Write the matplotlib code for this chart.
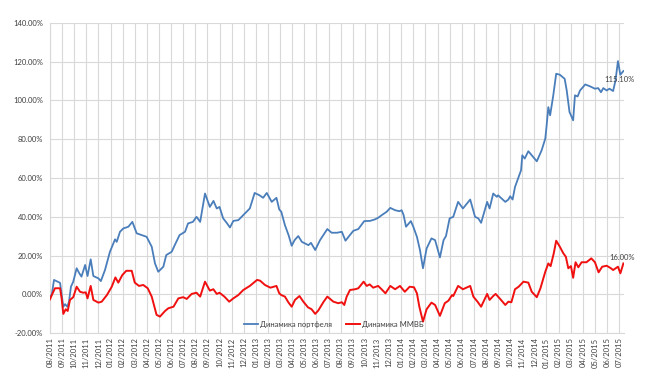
import matplotlib
matplotlib.use("Agg")
import matplotlib.pyplot as plt
from matplotlib.ticker import FuncFormatter, MultipleLocator

plt.rcParams['font.family'] = ['Lato', 'DejaVu Sans']

# month labels (categories on the x axis)
month_labels = ["08/2011", "09/2011", "10/2011", "11/2011", "12/2011",
                "01/2012", "02/2012", "03/2012", "04/2012", "05/2012", "06/2012", "07/2012",
                "08/2012", "09/2012", "10/2012", "11/2012", "12/2012",
                "01/2013", "02/2013", "03/2013", "04/2013", "05/2013", "06/2013", "07/2013",
                "08/2013", "09/2013", "10/2013", "11/2013", "12/2013",
                "01/2014", "02/2014", "03/2014", "04/2014", "05/2014", "06/2014", "07/2014",
                "08/2014", "09/2014", "10/2014", "11/2014", "12/2014",
                "01/2015", "02/2015", "03/2015", "04/2015", "05/2015", "06/2015", "07/2015"]

# portfolio dynamics: time in months since 08/2011, value in %
portfolio_t = [0.0, 0.15, 0.33, 0.5, 0.83, 0.92, 1.1, 1.24, 1.43, 1.57, 1.73, 1.92,
               2.2, 2.42, 2.6, 2.9, 3.1, 3.36, 3.58, 4.0, 4.2, 4.54, 4.95, 5.37, 5.51,
               5.78, 6.05, 6.47, 6.8, 7.16, 7.57, 7.98, 8.4, 8.67, 8.94, 9.36,
               9.6, 10.05, 10.3, 10.7, 11.15, 11.4, 11.8, 12.1, 12.4, 12.8, 13.2, 13.5,
               13.77, 14.0, 14.3, 14.59, 14.86, 15.14, 15.55, 15.96, 16.5, 16.9, 17.3,
               17.6, 17.9, 18.31, 18.7, 18.93, 19.1, 19.4, 19.7, 19.96, 20.2, 20.5,
               20.8, 21.06, 21.34, 21.55, 21.9, 22.3, 22.9, 23.26, 23.7, 24.1, 24.4,
               24.65, 25.05, 25.46, 25.95, 26.42, 26.8, 27.1, 27.4, 27.8, 28.1, 28.5,
               28.85, 29.04, 29.2, 29.4, 29.8, 30.0, 30.3, 30.55, 30.8, 31.1, 31.5,
               31.8, 32.2, 32.5, 32.7, 33.0, 33.3, 33.7, 34.1, 34.7, 35.1, 35.37,
               35.6, 36.1, 36.3, 36.6, 36.9, 37.0, 37.3, 37.6, 37.85, 38.0, 38.2,
               38.4, 38.7, 38.9, 39.0, 39.2, 39.5, 39.78, 40.2, 40.6, 40.9, 41.0,
               41.15, 41.3, 41.56, 41.8, 42.1, 42.5, 42.67, 42.9, 43.2, 43.35, 43.57,
               43.77, 44.2, 44.6, 45.0, 45.27, 45.5, 45.69, 45.97, 46.2, 46.5, 46.7,
               46.9, 47.1, 47.35]
portfolio = [-1.1, 0.0, 7.5, 7.0, 6.0, 2.0, -6.3, -5.0, -6.3, -3.7, 4.0, 6.6,
             13.5, 10.9, 9.2, 15.2, 9.5, 18.1, 9.5, 8.3, 6.9, 12.6, 22.0, 28.4, 27.1,
             32.3, 34.0, 34.9, 37.4, 31.5, 30.6, 29.7, 24.6, 16.0, 11.7, 14.3,
             20.3, 22.0, 25.4, 30.6, 32.3, 36.6, 37.4, 40.0, 37.4, 52.0, 45.1, 48.2,
             44.3, 45.1, 39.2, 36.9, 34.5, 37.9, 38.3, 40.9, 44.3, 52.3, 51.1,
             49.8, 52.3, 47.7, 49.8, 43.8, 42.6, 35.7, 30.6, 25.1, 28.0, 30.1,
             27.1, 26.3, 25.4, 26.6, 22.9, 28.0, 33.7, 31.8, 31.8, 32.3, 27.7,
             29.7, 32.8, 33.7, 37.8, 37.9, 38.6, 39.5, 40.9, 42.6, 44.6, 43.4,
             42.9, 43.4, 40.9, 34.9, 37.8, 34.9, 29.7, 22.9, 13.5, 23.7, 28.9,
             28.0, 19.1, 28.0, 30.1, 39.2, 40.0, 47.7, 44.3, 48.9, 40.0, 39.2,
             36.9, 47.7, 44.3, 52.0, 50.3, 51.1, 49.4, 47.7, 48.9, 50.6, 48.9,
             55.4, 60.5, 64.0, 71.7, 70.0, 73.8, 71.7, 68.6, 74.3, 80.3, 86.3,
             96.5, 92.3, 102.6, 113.7, 113.2, 111.1, 105.1, 94.0, 89.7, 102.6, 102.0,
             105.1, 108.2, 107.2, 106.0, 106.3, 104.2, 106.3, 105.1, 106.0, 104.8, 110.3,
             120.2, 113.2, 115.1]

# MICEX (ММВБ) dynamics: time in months since 08/2011, value in %
mmvb_t = [0.0, 0.15, 0.41, 0.83, 0.96, 1.1, 1.3, 1.46, 1.65, 1.92, 2.2, 2.48,
          2.75, 2.95, 3.1, 3.36, 3.58, 4.0, 4.27, 4.7, 5.1, 5.4, 5.64, 5.97,
          6.3, 6.75, 7.0, 7.35, 7.7, 8.07, 8.4, 8.8, 9.08, 9.5, 9.77, 10.2,
          10.6, 11.0, 11.29, 11.7, 12.1, 12.4, 12.8, 13.2, 13.49, 13.77, 14.0,
          14.4, 14.8, 15.14, 15.55, 15.96, 16.5, 17.1, 17.35, 17.75, 18.2, 18.7,
          18.93, 19.1, 19.4, 19.7, 19.96, 20.23, 20.6, 20.92, 21.3, 21.6, 21.9,
          22.15, 22.6, 22.9, 23.4, 23.8, 24.1, 24.3, 24.5, 24.77, 25.2, 25.46,
          25.9, 26.15, 26.4, 26.69, 27.1, 27.38, 27.7, 28.1, 28.5, 28.9, 29.3,
          29.7, 30.06, 30.3, 30.5, 30.8, 31.1, 31.5, 31.8, 32.2, 32.6, 32.9,
          33.2, 33.3, 33.7, 34.1, 34.7, 34.96, 35.3, 35.6, 36.1, 36.3, 36.6,
          36.8, 37.2, 37.6, 37.85, 38.1, 38.4, 38.7, 39.1, 39.5, 39.78, 40.2,
          40.5, 40.9, 41.15, 41.34, 41.6, 41.8, 42.1, 42.39, 42.6, 42.8, 43.02,
          43.2, 43.4, 43.63, 43.9, 44.3, 44.7, 45.0, 45.3, 45.6, 45.97, 46.32,
          46.5, 46.9, 47.1, 47.35]
mmvb = [-2.5, -0.3, 3.2, 3.2, -2.0, -10.0, -7.6, -8.5, -2.8, -1.4, 4.0, 1.4,
        0.9, 1.1, -2.0, 4.4, -2.8, -4.2, -3.7, -0.3, 4.0, 8.8, 6.1, 10.0,
        12.2, 12.2, 6.1, 4.4, 4.9, 3.2, -1.1, -10.5, -11.4, -8.5, -7.1, -6.3,
        -2.0, -1.4, -2.3, 0.3, 0.9, -1.1, 6.6, 2.0, 2.7, 0.3, 0.9,
        -1.1, -3.7, -2.0, -0.3, 2.3, 4.4, 7.5, 7.1, 4.9, 3.5, 4.4,
        0.6, -0.3, -1.1, -4.2, -6.3, -2.8, -0.8, -3.7, -6.6, -7.6, -10.0,
        -8.3, -3.7, -1.1, -3.7, -4.5, -4.0, -5.4, -1.1, 2.3, 2.7, 3.2,
        6.6, 4.4, 5.2, 3.5, 4.4, 2.7, 0.6, 4.4, 2.7, 4.4, 1.4,
        4.0, 3.7, 0.6, -6.3, -14.0, -7.6, -4.2, -5.4, -11.0, -4.5, -3.2,
        -0.3, -0.8, 4.4, 2.7, 4.4, -1.1, -3.7, -6.3, 0.3, -2.8, -0.8,
        0.3, -2.5, -5.4, -3.7, -4.0, 2.7, 4.0, 6.6, 6.1, 1.4, -1.4,
        3.2, 11.7, 16.0, 14.6, 21.2, 27.7, 24.6, 21.2, 19.4, 13.5, 14.6,
        8.6, 16.6, 14.0, 16.6, 16.6, 18.6, 16.6, 11.4, 14.3, 14.8, 13.5,
        12.6, 14.3, 10.9, 16.0]

series_names = ["Динамика портфеля", "Динамика ММВБ"]

fig = plt.figure(figsize=(6.51, 3.72), dpi=100)
ax = fig.add_axes([50 / 651, 1 - 333.3 / 372, (624 - 50) / 651, (333.3 - 22.7) / 372])

blue = "#4a7ebb"
red = "#f01010"
ax.plot(portfolio_t, portfolio, color=blue, lw=1.3, label=series_names[0], zorder=3,
        solid_joinstyle="round")
ax.plot(mmvb_t, mmvb, color=red, lw=1.4, label=series_names[1], zorder=3,
        solid_joinstyle="round")

ax.set_ylim(-20, 140)
ax.set_xlim(0, 47.4)
ax.yaxis.set_major_locator(MultipleLocator(20))
ax.yaxis.set_major_formatter(FuncFormatter(lambda v, p: f"{v:.2f}%"))
ax.set_xticks(range(len(month_labels)))
ax.set_xticklabels(month_labels, rotation=90)

ax.grid(True, color="#d9d9d9", lw=0.8, zorder=0)
for s in ["top", "right"]:
    ax.spines[s].set_visible(False)
for s in ["left", "bottom"]:
    ax.spines[s].set_color("#d9d9d9")
    ax.spines[s].set_linewidth(0.8)
ax.tick_params(axis="both", length=0, labelsize=5.5, colors="#404040")
ax.tick_params(axis="y", pad=5)
ax.tick_params(axis="x", pad=3)

ax.annotate(f"{portfolio[-1]:.2f}%", (portfolio_t[-1], portfolio[-1]),
            xytext=(-3, -6), textcoords="offset points", ha="center", va="center",
            fontsize=5.5, color="#404040")
ax.annotate(f"{mmvb[-1]:.2f}%", (mmvb_t[-1], mmvb[-1]),
            xytext=(-1, 4), textcoords="offset points", ha="center", va="center",
            fontsize=5.5, color="#404040")

leg = ax.legend(loc="lower center", bbox_to_anchor=(0.495, -0.005), ncol=2, frameon=False,
                fontsize=5.5, handlelength=1.8, columnspacing=1.8, handletextpad=0.3)
for t in leg.get_texts():
    t.set_color("#404040")

fig.savefig("out.png", dpi=100)
